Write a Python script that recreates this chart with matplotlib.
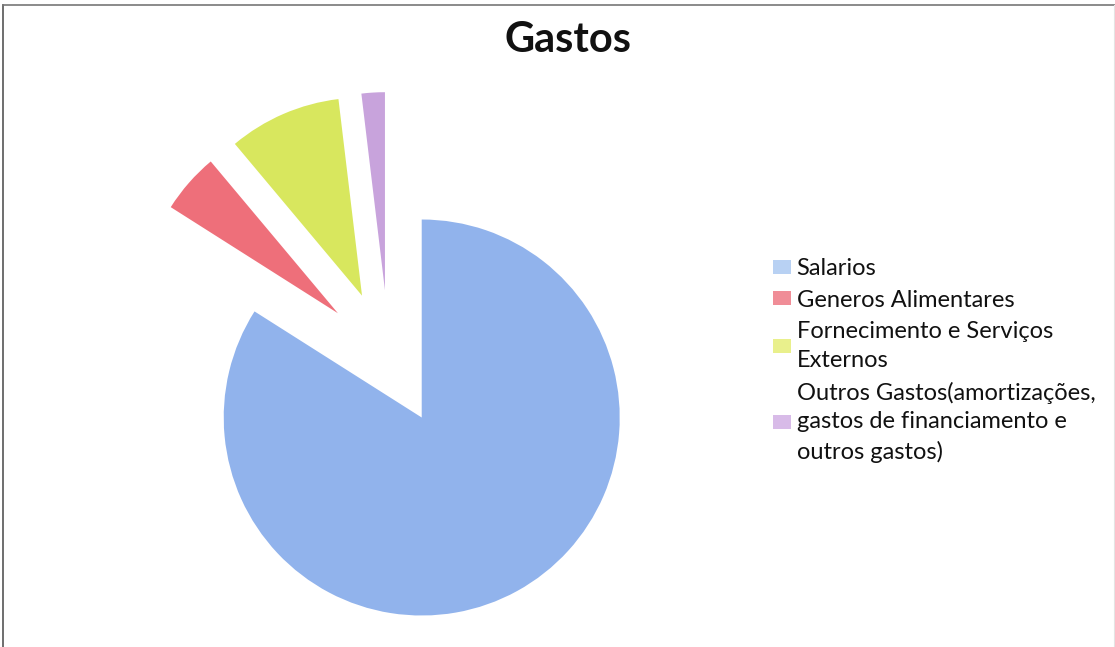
import matplotlib
matplotlib.use("Agg")
import matplotlib.pyplot as plt
from matplotlib.patches import Patch
from matplotlib.lines import Line2D

# data (share of total, %)
categorias = ["Salarios",
              "Generos Alimentares",
              "Fornecimento e Serviços\nExternos",
              "Outros Gastos(amortizações,\ngastos de financiamento e\noutros gastos)"]
valores = [84.0, 4.9, 9.2, 1.9]

cores = ["#91b3ec", "#ee6f7a", "#d8e75e", "#c8a3dc"]
cores_legenda = ["#b8d1f3", "#f08d97", "#e9f08c", "#d8bbe8"]

plt.rcParams['font.family'] = ['Lato', 'DejaVu Sans']

W, H = 1115, 647
fig = plt.figure(figsize=(W / 100, H / 100), dpi=100)

ax = fig.add_axes([0, 0, 1, 1])
ax.pie(valores, colors=cores, startangle=90, counterclock=False,
       explode=[0.343] * len(valores), radius=1,
       wedgeprops=dict(linewidth=0))

# 1 data unit = 198 px, pie centre at (389, 358) px from top-left
px = 198.0
cx, cy = 389, 358
ax.set_xlim(-cx / px, (W - cx) / px)
ax.set_ylim(-(H - cy) / px, cy / px)
ax.set_aspect('auto')
ax.axis('off')

# chart border (scan shows left and top edges)
fig.add_artist(Line2D([3 / W, 3 / W], [0, 1 - 5 / H], color="#555555", lw=1.2))
fig.add_artist(Line2D([3 / W, 1], [1 - 5 / H, 1 - 5 / H], color="#777777", lw=1.2))
fig.add_artist(Line2D([1114 / W, 1114 / W], [0, 1 - 5 / H], color="#e4e4e4", lw=0.8))

fig.text(568 / W, 1 - 40 / H, "Gastos", ha="center", va="center",
         fontsize=30, fontweight="bold", color="#111111")

handles = [Patch(facecolor=c, edgecolor="none") for c in cores_legenda]
leg = fig.legend(handles, categorias, loc="upper left",
                 bbox_to_anchor=(773 / W, 1 - 258 / H),
                 bbox_transform=fig.transFigure,
                 frameon=False, fontsize=17, borderpad=0, borderaxespad=0,
                 handlelength=0.75, handleheight=0.55, handletextpad=0.25,
                 labelspacing=0.45)
for t in leg.get_texts():
    t.set_linespacing(1.45)
    t.set_color("#111111")

fig.savefig("out.png", dpi=100)
